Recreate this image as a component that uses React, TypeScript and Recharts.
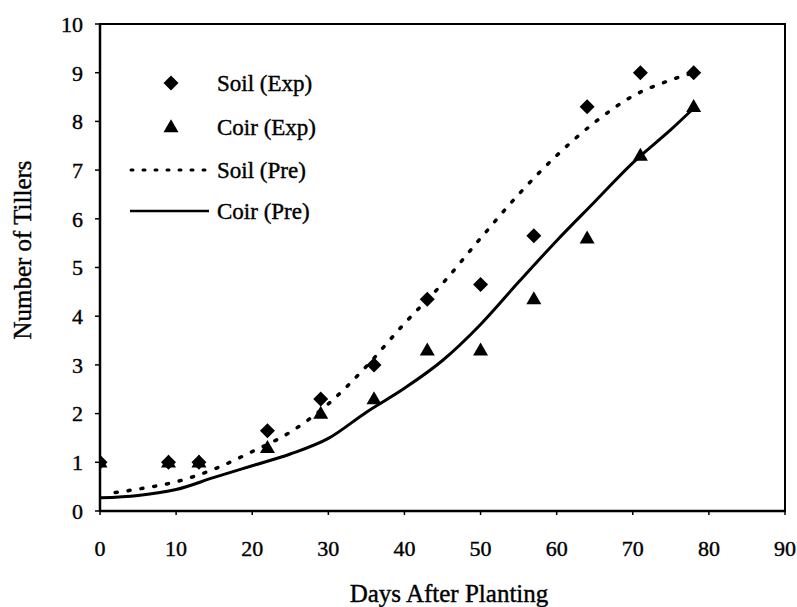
import React from "react"
import {
  ComposedChart,
  Line,
  Scatter,
  XAxis,
  YAxis,
  ReferenceArea,
} from "recharts"

// Measured tillers (experiment)
const expDays = [0, 9, 13, 22, 29, 36, 43, 50, 57, 64, 71, 78]
const soilExp = [1, 1, 1, 1.65, 2.3, 3.0, 4.35, 4.65, 5.65, 8.3, 9.0, 9.0]
const coirExp = [1, 1, 1, 1.3, 2.0, 2.3, 3.3, 3.3, 4.35, 5.6, 7.3, 8.3]

// Predicted curves
const soilPreDays = [2, 5, 10, 15, 20, 25, 30, 35, 40, 45, 50, 55, 60, 65, 70, 75, 78]
const soilPre = [0.38, 0.45, 0.6, 0.86, 1.22, 1.62, 2.2, 2.97, 3.85, 4.67, 5.6, 6.5, 7.3, 7.98, 8.52, 8.85, 9.0]
const coirPreDays = [0, 5, 10, 15, 20, 25, 30, 35, 40, 45, 50, 55, 60, 65, 70, 75, 78]
const coirPre = [0.27, 0.32, 0.44, 0.69, 0.93, 1.17, 1.49, 2.03, 2.52, 3.09, 3.83, 4.7, 5.55, 6.35, 7.15, 7.83, 8.27]

const xTicks = [0, 10, 20, 30, 40, 50, 60, 70, 80, 90]
const yTicks = [0, 1, 2, 3, 4, 5, 6, 7, 8, 9, 10]

const soilExpData = expDays.map((d, i) => ({ x: d, y: soilExp[i] }))
const coirExpData = expDays.map((d, i) => ({ x: d, y: coirExp[i] }))
const soilPreData = soilPreDays.map((d, i) => ({ x: d, y: soilPre[i] }))
const coirPreData = coirPreDays.map((d, i) => ({ x: d, y: coirPre[i] }))

const FONT = "'Liberation Serif', 'Times New Roman', serif"
// scanned print looks a bit heavier than plain Times
const ink = { fill: "#000", stroke: "#000", strokeWidth: 0.4, fontFamily: FONT }

function Diamond({ cx, cy }: any) {
  const r = 7.5
  return <polygon points={`${cx},${cy - r} ${cx + r},${cy} ${cx},${cy + r} ${cx - r},${cy}`} fill="#000" />
}

function Triangle({ cx, cy }: any) {
  const h = 13
  const w = 15
  return (
    <polygon
      points={`${cx},${cy - h * 0.6} ${cx + w / 2},${cy + h * 0.4} ${cx - w / 2},${cy + h * 0.4}`}
      fill="#000"
    />
  )
}

function Overlay() {
  const row = (y: number, mark: React.ReactNode, text: string) => (
    <g>
      {mark}
      <text x={217} y={y} dy="0.35em" fontSize={23} {...ink}>
        {text}
      </text>
    </g>
  )
  return (
    <svg width={797} height={607} style={{ position: "absolute", left: 0, top: 0, pointerEvents: "none" }}>
      {row(83, <Diamond cx={171} cy={83} />, "Soil (Exp)")}
      {row(127, <Triangle cx={171} cy={127} />, "Coir (Exp)")}
      {row(
        170,
        <line x1={131} y1={170} x2={205} y2={170} stroke="#000" strokeWidth={3} strokeDasharray="2 10" strokeLinecap="round" />,
        "Soil (Pre)"
      )}
      {row(211, <line x1={130} y1={211} x2={209} y2={211} stroke="#000" strokeWidth={2.5} />, "Coir (Pre)")}
      <text
        x={22}
        y={250}
        dy="0.35em"
        textAnchor="middle"
        transform="rotate(-90 22 250)"
        fontSize={25}
        {...ink}
      >
        Number of Tillers
      </text>
      <text x={449} y={593} dy="0.35em" textAnchor="middle" fontSize={25} {...ink}>
        Days After Planting
      </text>
    </svg>
  )
}

export default function App() {
  const tickStyle = { ...ink, fontSize: 22 }
  return (
    <div style={{ position: "absolute", left: 0, top: 0, width: 797, height: 607, background: "#fff" }}>
      <ComposedChart width={797} height={607} margin={{ top: 24, right: 12, bottom: 36, left: 0 }}>
        <ReferenceArea x1={0} x2={90} y1={0} y2={10} fill="none" stroke="#000" strokeWidth={2} ifOverflow="visible" />
        <XAxis
          type="number"
          dataKey="x"
          domain={[0, 90]}
          ticks={xTicks}
          allowDataOverflow
          height={60}
          tick={tickStyle}
          tickSize={4}
          tickMargin={25}
          axisLine={{ stroke: "#000", strokeWidth: 2.5 }}
          tickLine={{ stroke: "#000", strokeWidth: 1.5 }}
        />
        <YAxis
          type="number"
          dataKey="y"
          domain={[0, 10]}
          ticks={yTicks}
          allowDataOverflow
          width={100}
          tick={tickStyle}
          tickSize={5}
          tickMargin={12}
          axisLine={{ stroke: "#000", strokeWidth: 2.5 }}
          tickLine={{ stroke: "#000", strokeWidth: 1.5 }}
        />
        <Line
          data={soilPreData}
          dataKey="y"
          type="monotone"
          stroke="#000"
          strokeWidth={3.5}
          strokeDasharray="2 11"
          strokeLinecap="round"
          dot={false}
          activeDot={false}
          isAnimationActive={false}
        />
        <Line
          data={coirPreData}
          dataKey="y"
          type="monotone"
          stroke="#000"
          strokeWidth={3}
          dot={false}
          activeDot={false}
          isAnimationActive={false}
        />
        <Scatter data={coirExpData} dataKey="y" shape={<Triangle />} isAnimationActive={false} />
        <Scatter data={soilExpData} dataKey="y" shape={<Diamond />} isAnimationActive={false} />
      </ComposedChart>
      <Overlay />
    </div>
  )
}
